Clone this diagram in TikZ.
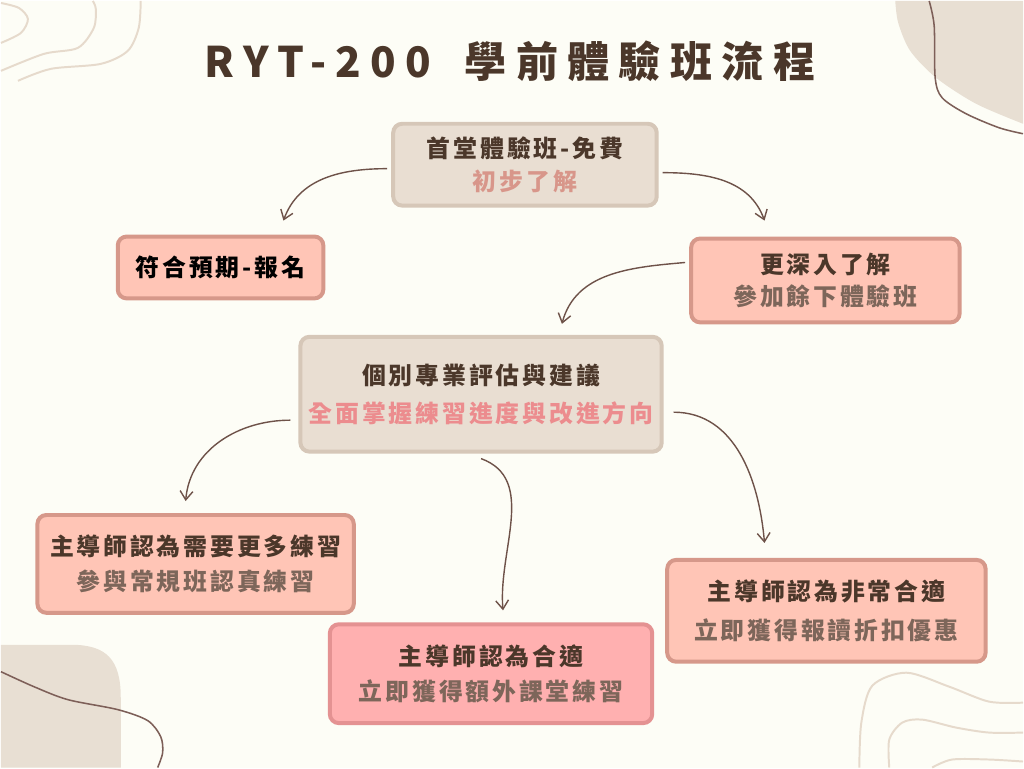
\documentclass[tikz,border=0pt]{standalone}
\usepackage{fontspec}
\setmainfont{Noto Sans CJK TC}
\usepackage{tikz}
\usetikzlibrary{arrows.meta,positioning}
\usepackage{xcolor}
\definecolor{paper}{RGB}{253,253,246}
\definecolor{sand}{RGB}{232,223,211}
\definecolor{contour}{RGB}{230,218,204}
\definecolor{squigc}{RGB}{125,95,88}
\definecolor{arrowc}{RGB}{110,82,73}
\definecolor{ink}{RGB}{75,55,42}
\definecolor{mud}{RGB}{125,102,90}
\definecolor{rose}{RGB}{216,150,138}
\definecolor{rosy}{RGB}{236,140,142}
\definecolor{beigefill}{RGB}{233,222,210}
\definecolor{beigeline}{RGB}{214,199,184}
\definecolor{salmonfill}{RGB}{255,197,182}
\definecolor{salmonline}{RGB}{214,152,138}
\definecolor{pinkfill}{RGB}{255,176,176}
\definecolor{pinkline}{RGB}{228,146,146}
\newlength\pu \setlength\pu{0.025cm}

\begin{document}
\begin{tikzpicture}[x=0.025cm, y=-0.025cm, every node/.style={align=center,text=ink,font=\fontsize{17}{23}\selectfont\bfseries\addfontfeature{LetterSpace=12}}, box/.style={rectangle,rounded corners=9\pu,line width=4\pu,inner sep=0pt}, beigebox/.style={box,draw=beigeline,fill=beigefill}, salmonbox/.style={box,draw=salmonline,fill=salmonfill}, pinkbox/.style={box,draw=pinkline,fill=pinkfill}, flow/.style={-{Straight Barb[length=2.2mm,width=3.2mm]},line width=1pt,arrowc}, squig/.style={line width=1.1pt,squigc}, topo/.style={line width=1.4pt,contour}]
  \fill[paper] (0,0) rectangle (1024,768);
  % corner decorations
  \fill[sand] plot[smooth] coordinates {(896,0) (899,22) (911,50) (937,77) (977,103) (1024,123)} -- (1024,0) -- cycle;
  \draw[squig] plot[smooth] coordinates {(930,0) (935,25) (936,77) (943,97) (967,113) (1000,127) (1024,133)};
  \fill[sand] (0,645) -- (70,645) .. controls (106,645) and (120,660) .. (120,698) -- (120,768) -- (0,768) -- cycle;
  \draw[squig] plot[smooth] coordinates {(0,672) (33,687) (67,700) (117,710) (147,721) (160,737) (162,753) (157,768)};
  \draw[topo] plot[smooth] coordinates {(0,2) (18,7) (27,18) (20,32) (0,42)};
  \draw[topo] plot[smooth] coordinates {(0,70) (43,53) (77,47) (93,27) (95,8) (92,0)};
  \draw[topo] plot[smooth] coordinates {(17,80) (50,68) (100,63) (127,50) (138,27) (140,0)};
  \draw[topo] plot[smooth] coordinates {(860,768) (862,723) (873,686) (907,673) (950,687) (990,702) (1024,703)};
  \draw[topo] plot[smooth] coordinates {(890,768) (890,740) (903,723) (923,720) (957,728) (990,733) (1024,733)};
  \draw[topo] plot[smooth] coordinates {(933,768) (953,760) (990,760) (1024,762)};
  % title and steps
  \node[font=\fontsize{30}{34}\selectfont\bfseries\addfontfeature{LetterSpace=22},text=ink] (title) at (510,60) {RYT-200\hspace{0.35em} 學前體驗班流程};
  \node[beigebox,minimum width=264\pu,minimum height=82\pu] (taste) at (525,164) {首堂體驗班-免費\\\textcolor{rose}{初步了解}};
  \node[salmonbox,minimum width=206\pu,minimum height=62\pu,text=black] (enroll) at (220,267) {符合預期-報名};
  \node[salmonbox,minimum width=269\pu,minimum height=84\pu] (deeper) at (826,280) {更深入了解\\\textcolor{mud}{參加餘下體驗班}};
  \node[beigebox,minimum width=362\pu,minimum height=115\pu] (assess) at (481,394) {個別專業評估與建議\\[4pt]\textcolor{rosy}{全面掌握練習進度與改進方向}};
  \node[salmonbox,minimum width=317\pu,minimum height=98\pu] (more) at (195,564) {主導師認為需要更多練習\\[2pt]\textcolor{mud}{參與常規班認真練習}};
  \node[pinkbox,minimum width=323\pu,minimum height=99\pu] (suit) at (491,674) {主導師認為合適\\[2pt]\textcolor{mud}{立即獲得額外課堂練習}};
  \node[salmonbox,minimum width=319\pu,minimum height=102\pu] (great) at (827,611) {主導師認為非常合適\\[5pt]\textcolor{mud}{立即獲得報讀折扣優惠}};
  \draw[flow] ([xshift=-4\pu,yshift=-4\pu]taste.west) to[out=180,in=70] ([xshift=63\pu,yshift=14\pu]enroll.north);
  \draw[flow] ([xshift=4\pu,yshift=-8\pu]taste.east) to[out=0,in=110] ([xshift=-61\pu,yshift=16\pu]deeper.north);
  \draw[flow] ([xshift=-4\pu,yshift=18\pu]deeper.west) to[out=185,in=75] ([xshift=81\pu,yshift=11\pu]assess.north);
  \draw[flow] ([xshift=-8\pu,yshift=-26\pu]assess.west) to[out=180,in=85] ([xshift=-10\pu,yshift=12\pu]more.north);
  \draw[flow] ([yshift=-5\pu]assess.south) to[out=-20,in=95] ([xshift=12\pu,yshift=12\pu]suit.north);
  \draw[flow] ([xshift=10\pu,yshift=-18\pu]assess.east) to[out=0,in=95] ([xshift=-62\pu,yshift=15\pu]great.north);
\end{tikzpicture}
\end{document}
